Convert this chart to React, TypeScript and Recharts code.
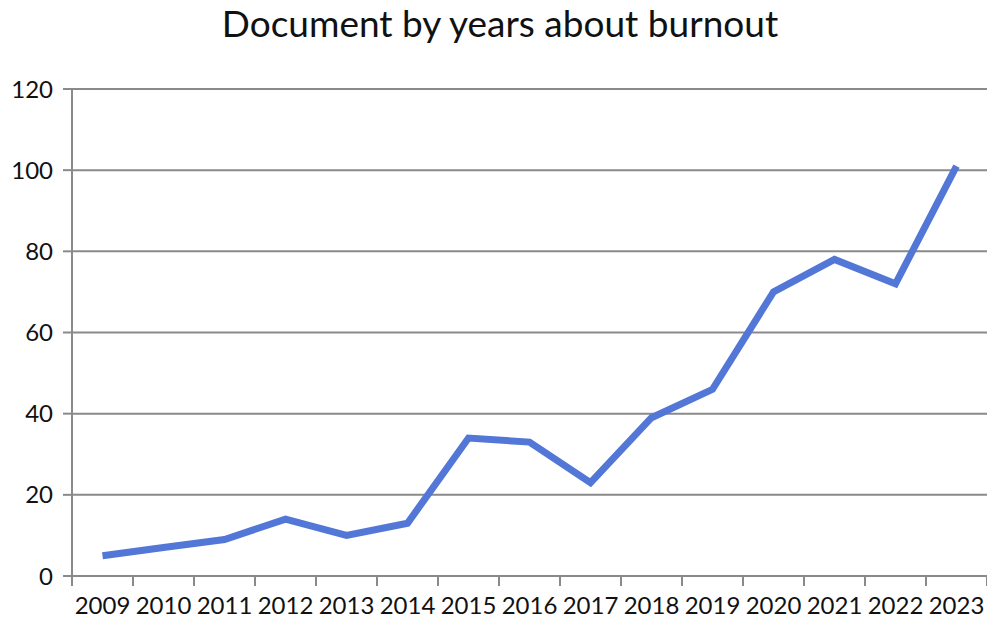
import { LineChart, Line, XAxis, YAxis, CartesianGrid } from 'recharts'

const years = ['2009', '2010', '2011', '2012', '2013', '2014', '2015', '2016', '2017', '2018', '2019', '2020', '2021', '2022', '2023']
const documents = [5, 7, 9, 14, 10, 13, 34, 33, 23, 39, 46, 70, 78, 72, 101]
const yTicks = [0, 20, 40, 60, 80, 100, 120]

// slot index + 0.5 puts each point in the middle of its category slot
const chartData = years.map((year, i) => ({ year, slot: i + 0.5, documents: documents[i] }))
const slotEdges = years.map((_, i) => i).concat(years.length)
const slotCenters = chartData.map(d => d.slot)

const GRID = '#8a8a8a'
const FONT = 'Lato, "Open Sans", sans-serif'

export default function App() {
  return (
    <div style={{ position: 'absolute', left: 0, top: 0, width: 987, height: 628, background: '#fff', fontFamily: FONT }}>
      <div style={{ position: 'absolute', top: 1, left: 13, width: 974, lineHeight: '44px', textAlign: 'center', fontSize: 37, color: '#111' }}>
        Document by years about burnout
      </div>
      <LineChart width={987} height={628} data={chartData} margin={{ top: 89, right: 0, bottom: 0, left: 0 }}>
        <CartesianGrid horizontal vertical={false} stroke={GRID} strokeWidth={2} />
        <XAxis
          xAxisId="slots"
          dataKey="slot"
          type="number"
          domain={[0, years.length]}
          ticks={slotEdges}
          height={10}
          axisLine={{ stroke: GRID, strokeWidth: 2 }}
          tickLine={{ stroke: GRID, strokeWidth: 2 }}
          tickSize={10}
          tick={() => <g />}
        />
        <XAxis
          xAxisId="years"
          dataKey="slot"
          type="number"
          domain={[0, years.length]}
          ticks={slotCenters}
          tickFormatter={(v: number) => years[Math.floor(v)]}
          height={42}
          axisLine={false}
          tickLine={false}
          tickSize={0}
          tickMargin={11}
          interval={0}
          tick={{ fontSize: 24, fill: '#111', fontFamily: FONT }}
        />
        <YAxis
          domain={[0, 120]}
          ticks={yTicks}
          width={72}
          axisLine={{ stroke: GRID, strokeWidth: 2 }}
          tickLine={{ stroke: GRID, strokeWidth: 2 }}
          tickSize={9}
          tickMargin={10}
          tick={{ fontSize: 24, fill: '#111', fontFamily: FONT }}
        />
        <Line
          xAxisId="slots"
          type="linear"
          dataKey="documents"
          stroke="#5377d7"
          strokeWidth={7}
          dot={false}
          isAnimationActive={false}
        />
      </LineChart>
    </div>
  )
}
